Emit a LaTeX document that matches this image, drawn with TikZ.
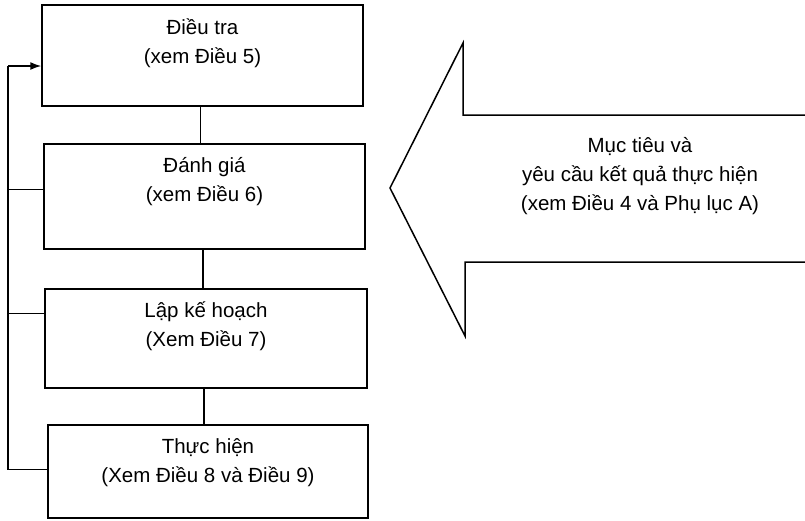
\documentclass[tikz,border=0pt]{standalone}
\usepackage{fontspec}
\setmainfont{Liberation Sans}
\usepackage{tikz}
\usetikzlibrary{shapes,arrows,arrows.meta,positioning}
\tikzstyle{box} = [rectangle, draw, line width=1.5pt, inner sep=0pt, minimum width=321pt]
\tikzstyle{txt} = [align=center, inner sep=0pt, font=\fontsize{20.5}{29}\selectfont]
\tikzstyle{line} = [draw, line width=1.5pt]

\begin{document}
\begin{tikzpicture}[x=1pt, y=-1pt]
			\useasboundingbox (0,0) rectangle (805,520);
			\node [box, minimum height=101pt] (dieutra) at (202.5, 55.5) {};
			\node [box, minimum height=105pt] (danhgia) at (204.5, 196.5) {};
			\node [box, minimum height=99pt, minimum width=322pt] (lapkehoach) at (206, 338.5) {};
			\node [box, minimum height=93pt, minimum width=320pt] (thuchien) at (208, 471.5) {};

			\node [txt] (t1) at ([yshift=-39pt]dieutra.north) {Điều tra\\(xem Điều 5)};
			\node [txt] (t2) at ([yshift=-38pt]danhgia.north) {Đánh giá\\(xem Điều 6)};
			\node [txt] (t3) at ([yshift=-38pt]lapkehoach.north) {Lập kế hoạch\\(Xem Điều 7)};
			\node [txt] (t4) at ([yshift=-38pt]thuchien.north) {Thực hiện\\(Xem Điều 8 và Điều 9)};

			\path [line] ([xshift=-2pt]dieutra.south) -- ([xshift=-2pt]dieutra.south |- danhgia.north);
			\path [line] ([xshift=-1.5pt]danhgia.south) -- ([xshift=-1.5pt]danhgia.south |- lapkehoach.north);
			\path [line] ([xshift=-2pt]lapkehoach.south) -- ([xshift=-2pt]lapkehoach.south |- thuchien.north);

			% feedback loop
			\coordinate (loop) at (8, 66);
			\path [line] ([yshift=2pt]thuchien.west) -- ([yshift=2pt]thuchien.west -| loop) -- (loop);
			\path [line, -{Latex[length=11pt, width=8pt]}] (loop) -- (loop -| dieutra.west);
			\path [line] ([yshift=7pt]danhgia.west) -- ([yshift=7pt]danhgia.west -| loop);
			\path [line] ([yshift=25pt]lapkehoach.west) -- ([yshift=25pt]lapkehoach.west -| loop);

			% big arrow
			\path [line, line join=miter] (805, 115) -- (463, 115) -- (463, 43) -- (390, 188)
				-- (465, 336) -- (465, 262) -- (805, 262);
			\node [txt] (muctieu) at (640, 176) {Mục tiêu và\\yêu cầu kết quả thực hiện\\(xem Điều 4 và Phụ lục A)};
		\end{tikzpicture}
\end{document}
